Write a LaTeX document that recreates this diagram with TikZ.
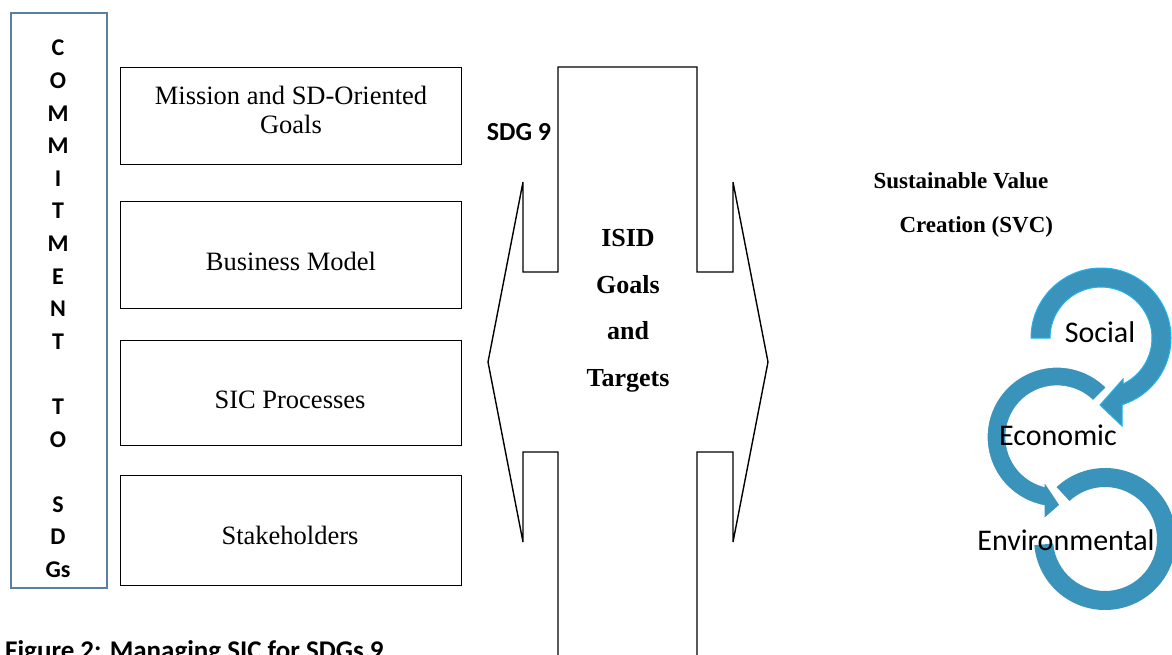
\documentclass[tikz,border=0pt]{standalone}
\usepackage{fontspec}
\setmainfont{Liberation Serif}
\newfontfamily\calib{Carlito}
\definecolor{ringblue}{HTML}{3A93BA}
\definecolor{ringedge}{HTML}{1FB4EE}
\definecolor{colbox}{HTML}{5A7EA6}
\begin{document}
\begin{tikzpicture}[x=1pt,y=-1pt,
  sbox/.style={draw=black,line width=1.4pt,minimum width=341pt,anchor=north west,inner sep=0pt},
  boxtxt/.style={font=\fontsize{26.5}{29}\selectfont,align=center},
  boldser/.style={font=\fontsize{26}{46.5}\selectfont\bfseries,align=center},
  calb/.style={font=\calib\bfseries\fontsize{26}{30}\selectfont},
  ringtxt/.style={font=\calib\fontsize{30}{32}\selectfont}]
\useasboundingbox (0,0) rectangle (1172,655);
% left column
\node[draw=colbox,line width=2.2pt,minimum width=96pt,minimum height=575pt,anchor=north west,inner sep=0pt] (col) at (10,12) {};
\node[font=\calib\bfseries\fontsize{24}{32.6}\selectfont,align=center] (coltxt) at (58,309)
  {C\\O\\M\\M\\I\\T\\M\\E\\N\\T\\\mbox{}\\T\\O\\\mbox{}\\S\\D\\Gs};
% boxes
\node[sbox,minimum height=97pt] (b1) at (120,67) {};
\node[sbox,minimum height=107pt] (b2) at (120,201) {};
\node[sbox,minimum height=105pt] (b3) at (120,340) {};
\node[sbox,minimum height=110pt] (b4) at (120,475) {};
\node[boxtxt] (t1) at (291,110) {Mission and SD-Oriented\\Goals};
\node[boxtxt] (t2) at (291,261) {Business Model};
\node[boxtxt] (t3) at (290,400) {SIC Processes};
\node[boxtxt] (t4) at (290,535) {Stakeholders};
% central shape
\draw[line width=1.4pt,line join=miter] (558,660) -- (558,452) -- (523,452) -- (523,542) -- (488,362) -- (523,182)
  -- (523,272) -- (558,272) -- (558,67) -- (697,67) -- (697,272) -- (733,272) -- (733,182)
  -- (768,362) -- (733,542) -- (733,452) -- (697,452) -- (697,660);
\node[calb] (sdg) at (519,132) {SDG 9};
\node[boldser] (isid) at (628,311) {ISID\\Goals\\and\\Targets};
\node[font=\fontsize{23}{46}\selectfont\bfseries,anchor=west] (svc1) at (870,181) {Sustainable Value};
\node[font=\fontsize{23}{46}\selectfont\bfseries,anchor=west] (svc2) at (896,227) {Creation (SVC)};
% rings
\begin{scope}[shift={(1105,539)},x=1pt,y=1pt]
  \fill[ringblue] (133:71) arc[start angle=133,end angle=-175,radius=71] -- (-175:52) arc[start angle=-175,end angle=133,radius=52] -- cycle;
\end{scope}
\begin{scope}[shift={(1057,437)},x=1pt,y=1pt]
  \filldraw[fill=ringblue,draw=white,line width=1.2pt] (45:70) arc[start angle=45,end angle=259.3,radius=70]
    -- (-13,-82) -- (3,-68) -- (-13,-44) -- (255.2:51) arc[start angle=255.2,end angle=45,radius=51] -- cycle;
\end{scope}
\begin{scope}[shift={(1101,338)},x=1pt,y=1pt]
  \filldraw[fill=ringblue,draw=ringedge,line width=1pt] (180:70) arc[start angle=180,end angle=-72.5,radius=70]
    -- (21,-88) -- (-1,-67) -- (22,-41) -- (-64.4:51) arc[start angle=-64.4,end angle=180,radius=51] -- cycle;
\end{scope}
\node[ringtxt] (soc) at (1100,332) {Social};
\node[ringtxt] (eco) at (1058,435) {Economic};
\node[ringtxt] (env) at (1066,540) {Environmental};
% caption
\node[font=\calib\bfseries\fontsize{27}{30}\selectfont,anchor=base west,inner sep=0pt] (cap) at (5,659) {Figure 2: Managing SIC for SDGs 9};
\end{tikzpicture}
\end{document}
